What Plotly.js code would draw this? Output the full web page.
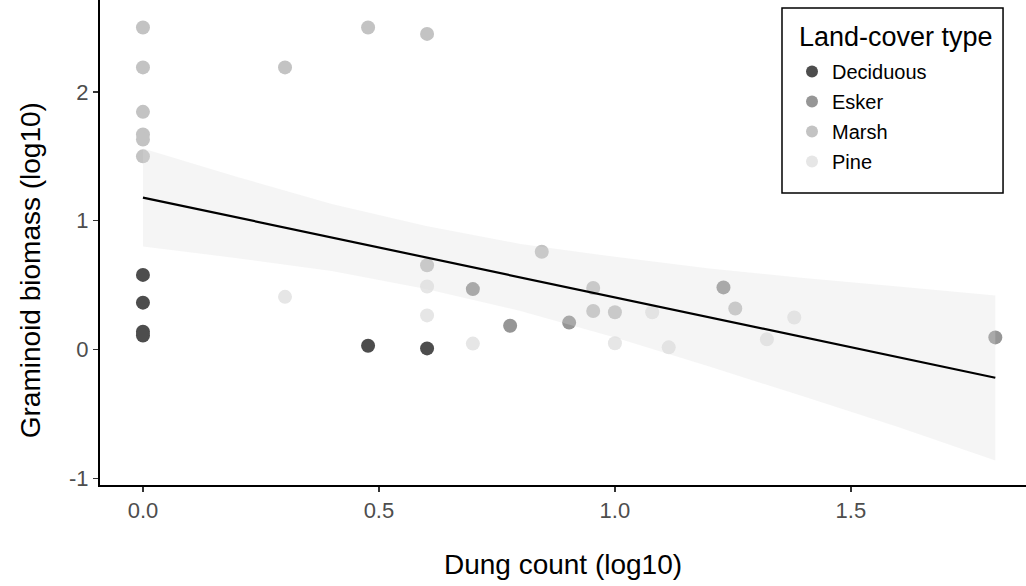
<!DOCTYPE html>
<html>
<head>
<meta charset="utf-8">
<script src="https://cdn.plot.ly/plotly-3.0.1.min.js"></script>
<style>html,body{margin:0;padding:0;background:#fff;}#chart{width:1026px;height:586px;}</style>
</head>
<body>
<div id="chart"></div>
<script>
// Land-cover categories
const categories = ["Deciduous", "Esker", "Marsh", "Pine"];
const catColors = ["#4D4D4D", "#969696", "#C3C3C3", "#E6E6E6"];
const legendTitle = "Land-cover type";

// Points (x = dung count log10, y = graminoid biomass log10)
const deciduousX = [0, 0, 0, 0, 0.477, 0.602];
const deciduousY = [0.58, 0.365, 0.14, 0.11, 0.03, 0.01];

const eskerX = [0.699, 0.778, 0.903, 1.230, 1.806];
const eskerY = [0.47, 0.186, 0.21, 0.483, 0.095];

const marshX = [0, 0, 0, 0, 0, 0, 0.301, 0.477, 0.602, 0.602, 0.845, 0.954, 0.954, 1.0, 1.255];
const marshY = [2.50, 2.19, 1.845, 1.67, 1.63, 1.50, 2.19, 2.50, 2.45, 0.655, 0.76, 0.478, 0.30, 0.29, 0.32];

const pineX = [0.301, 0.602, 0.602, 0.699, 1.0, 1.079, 1.114, 1.322, 1.380];
const pineY = [0.41, 0.49, 0.266, 0.047, 0.05, 0.29, 0.018, 0.08, 0.25];

// Fitted line and confidence band
const fitX = [0, 1.806];
const fitY = [1.18, -0.218];
const bandX = [0, 0.2, 0.4, 0.6, 0.8, 1.0, 1.2, 1.4, 1.6, 1.806];
const bandUpper = [1.56, 1.34, 1.13, 0.96, 0.82, 0.72, 0.63, 0.556, 0.49, 0.42];
const bandLower = [0.80, 0.71, 0.61, 0.47, 0.30, 0.094, -0.13, -0.364, -0.60, -0.86];

const xTickVals = [0, 0.5, 1.0, 1.5];
const xTickText = ["0.0", "0.5", "1.0", "1.5"];
const yTickVals = [-1, 0, 1, 2];
const yTickText = ["-1", "0", "1", "2"];

const seriesX = [deciduousX, eskerX, marshX, pineX];
const seriesY = [deciduousY, eskerY, marshY, pineY];

const traces = categories.map((c, i) => ({
  type: "scatter", mode: "markers", name: c, legendgroup: "g" + i,
  x: seriesX[i], y: seriesY[i],
  marker: {color: catColors[i], size: 14, line: {width: 0}},
  hoverinfo: "x+y+name"
}));

traces.push({
  type: "scatter", mode: "lines",
  x: bandX.concat(bandX.slice().reverse()),
  y: bandUpper.concat(bandLower.slice().reverse()),
  fill: "toself", fillcolor: "rgba(220,220,220,0.28)",
  line: {width: 0, color: "rgba(0,0,0,0)"},
  showlegend: false, hoverinfo: "skip"
});
traces.push({
  type: "scatter", mode: "lines", x: fitX, y: fitY,
  line: {color: "#000", width: 2.2}, showlegend: false, hoverinfo: "skip"
});

const layout = {
  width: 1026, height: 586,
  margin: {l: 100, r: 0, t: 0, b: 101},
  paper_bgcolor: "#fff", plot_bgcolor: "#fff",
  font: {family: "Liberation Sans, Arial, sans-serif", color: "#000"},
  showlegend: true,
  xaxis: {
    range: [-0.091, 1.871], tickvals: xTickVals, ticktext: xTickText,
    showgrid: false, zeroline: false, showline: true, linecolor: "#000", linewidth: 2,
    ticks: "outside", ticklen: 5, tickwidth: 1.2, tickcolor: "#333",
    tickfont: {size: 22, color: "#4d4d4d"},
    title: {text: "Dung count (log10)", font: {size: 28, color: "#000"}, standoff: 32},
    automargin: false
  },
  yaxis: {
    range: [-1.05, 2.713], tickvals: yTickVals, ticktext: yTickText,
    showgrid: false, zeroline: false, showline: true, linecolor: "#000", linewidth: 2,
    ticks: "outside", ticklen: 5, tickwidth: 1.2, tickcolor: "#333",
    tickfont: {size: 22, color: "#4d4d4d"},
    automargin: false
  },
  annotations: [{
    text: "Graminoid biomass (log10)", textangle: -90,
    xref: "paper", yref: "paper", x: -0.0755, y: 0.443,
    xanchor: "center", yanchor: "middle", showarrow: false,
    font: {size: 28, color: "#000"}
  }, {
    text: legendTitle,
    xref: "paper", yref: "paper", x: (797 - 100) / 926, y: (485 - 37) / 485,
    xanchor: "left", yanchor: "middle", showarrow: false,
    font: {size: 27, color: "#000"}
  }],
  shapes: [{
    type: "rect", xref: "paper", yref: "paper",
    x0: 0.7365, x1: 0.9752, y0: 0.602, y1: 0.9835,
    line: {color: "#000", width: 1.5}, fillcolor: "#fff", layer: "above"
  }],
  legend: {
    x: (792 - 100) / 926, y: (485 - 52) / 485, xanchor: "left", yanchor: "top",
    bgcolor: "rgba(0,0,0,0)", borderwidth: 0,
    font: {size: 20, color: "#000"},
    itemsizing: "constant", tracegroupgap: 1
  }
};

Plotly.newPlot("chart", traces, layout, {displayModeBar: false, staticPlot: true});
</script>
</body>
</html>
